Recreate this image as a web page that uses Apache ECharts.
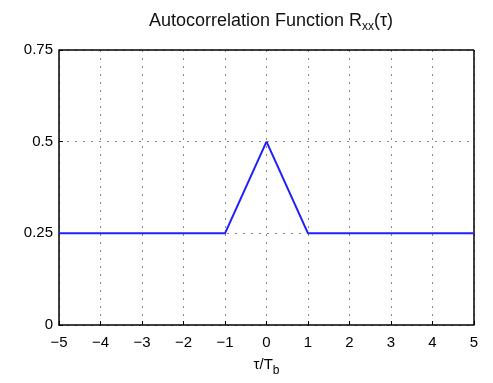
<!DOCTYPE html>
<html>
<head>
<meta charset="utf-8">
<script src="https://cdn.jsdelivr.net/npm/echarts@6/dist/echarts.min.js"></script>
<style>
  html, body { margin: 0; padding: 0; background: #fff; }
  #chart { width: 493px; height: 383px; }
</style>
</head>
<body>
<div id="chart"></div>
<script>
var tau = [-5, -1, 0, 1, 5];
var rxx = [0.25, 0.25, 0.5, 0.25, 0.25];
var xTicks = [-5, -4, -3, -2, -1, 0, 1, 2, 3, 4, 5];
var yTicks = [0, 0.25, 0.5, 0.75];

var chart = echarts.init(document.getElementById("chart"));
var font = "Liberation Sans, Arial, sans-serif";
chart.setOption({
  animation: false,
  title: {
    text: "{a|Autocorrelation Function R}{s|xx}{a|(τ)}",
    left: 266, textAlign: "center", top: 4,
    textStyle: {
      fontWeight: "normal",
      rich: {
        a: { fontFamily: font, fontSize: 18, fontWeight: "normal", color: "#111" },
        s: { fontFamily: font, fontSize: 12, fontWeight: "normal", color: "#111", padding: [12, 0, 0, 0] }
      }
    }
  },
  grid: { left: 59, right: 19, top: 50, bottom: 58 },
  xAxis: {
    type: "value", min: -5, max: 5, interval: 1,
    name: "{a|τ/T}{s|b}", nameLocation: "middle", nameGap: 28,
    nameTextStyle: {
      rich: {
        a: { fontFamily: font, fontSize: 15, color: "#000" },
        s: { fontFamily: font, fontSize: 12, color: "#000", padding: [12, 0, 0, 0] }
      }
    },
    axisLine: { onZero: false, lineStyle: { color: "#000", width: 1.5 } },
    axisTick: { inside: true, length: 4, lineStyle: { color: "#000" } },
    axisLabel: { fontFamily: font, fontSize: 15, color: "#000", margin: 10,
      formatter: function (v) { return v < 0 ? "\u2212" + Math.abs(v) : String(v); } },
    splitLine: { show: true, lineStyle: { color: "#888", type: [2, 6], width: 1 } }
  },
  yAxis: {
    type: "value", min: 0, max: 0.75, interval: 0.25,
    axisLine: { show: true, onZero: false, lineStyle: { color: "#000", width: 1.5 } },
    axisTick: { show: true, inside: true, length: 4, lineStyle: { color: "#000" } },
    axisLabel: { fontFamily: font, fontSize: 15, color: "#000", margin: 6,
      formatter: function (v) { return String(v); } },
    splitLine: { show: true, lineStyle: { color: "#888", type: [2, 6], width: 1 } }
  },
  series: [{
    type: "line",
    data: tau.map(function (t, i) { return [t, rxx[i]]; }),
    showSymbol: false,
    lineStyle: { color: "#1f1fff", width: 2 },
    z: 5
  }, {
    type: "line", data: [], markLine: { silent: true, symbol: "none", label: { show: false },
      lineStyle: { color: "#000", type: "solid", width: 1.5 },
      data: [{ yAxis: 0.75 }, { xAxis: 5 }] }
  }]
});
</script>
</body>
</html>
